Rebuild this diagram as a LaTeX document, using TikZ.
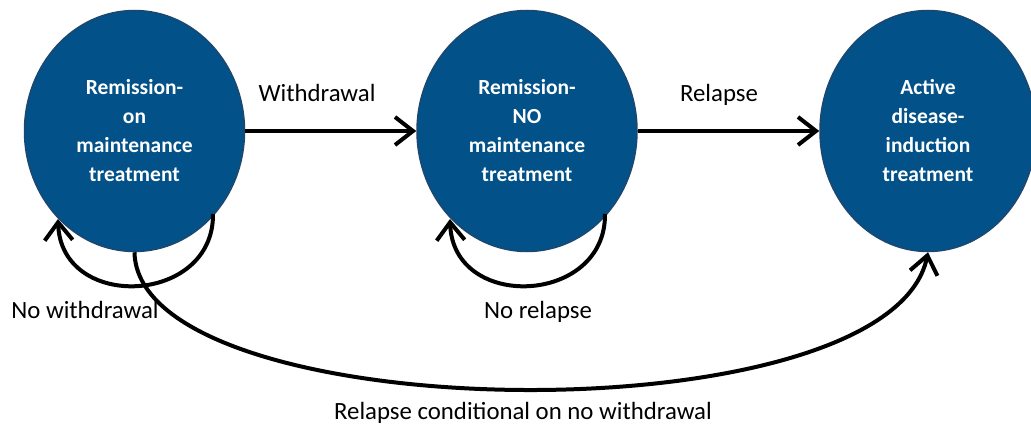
\documentclass[tikz,border=0pt]{standalone}
\usepackage{fontspec}
\setmainfont{Carlito}
\usetikzlibrary{shapes.geometric,arrows.meta}
\definecolor{statefill}{RGB}{2,81,137}
\definecolor{stateedge}{RGB}{28,72,112}
\tikzset{
  state/.style={ellipse, draw=stateedge, line width=1.5pt, fill=statefill,
    inner sep=0pt, text=white, align=center,
    font=\fontsize{21.5}{29}\selectfont\bfseries},
  flow/.style={line width=4pt, -{Straight Barb[length=18pt,width=28pt,line width=4pt]}},
  lbl/.style={anchor=base, inner sep=0pt, font=\fontsize{24.8}{30}\selectfont}
}
\begin{document}
\begin{tikzpicture}[x=1pt,y=-1pt]
  \useasboundingbox (0,0) rectangle (1031,425);
  \begin{scope}
    \clip (0,0) rectangle (1031,425);
    \node[state, minimum width=220pt, minimum height=241pt] (on) at (134.5,131) {Remission-\\on\\maintenance\\treatment};
    \node[state, minimum width=220pt, minimum height=241pt] (off) at (527,131) {Remission-\\NO\\maintenance\\treatment};
    \node[state, minimum width=216pt, minimum height=241pt] (act) at (928,131) {Active\\disease-\\induction\\treatment};
  \end{scope}

  % transitions between states
  \draw[flow] (on.east) -- (off.west);
  \draw[flow] (off.east) -- (act.west);

  % self loops
  \coordinate (onout) at (213,214);
  \coordinate (onin)  at (58,219);
  \draw[flow] (onout) .. controls (214,305) and (61,312) .. (onin);
  \coordinate (offout) at (605,214);
  \coordinate (offin)  at (450,219);
  \draw[flow] (offout) .. controls (606,305) and (453,312) .. (offin);

  % relapse while on maintenance
  \draw[flow] (on.south) .. controls (138,430) and (890,440) .. (act.south);

  % labels
  \node[lbl] (lw) at (317,102) {Withdrawal};
  \node[lbl] (lr) at (719,102) {Relapse};
  \node[lbl] (lnw) at (85,318) {No withdrawal};
  \node[lbl] (lnr) at (538,318) {No relapse};
  \node[lbl] (lc) at (523,419) {Relapse conditional on no withdrawal};
\end{tikzpicture}
\end{document}
